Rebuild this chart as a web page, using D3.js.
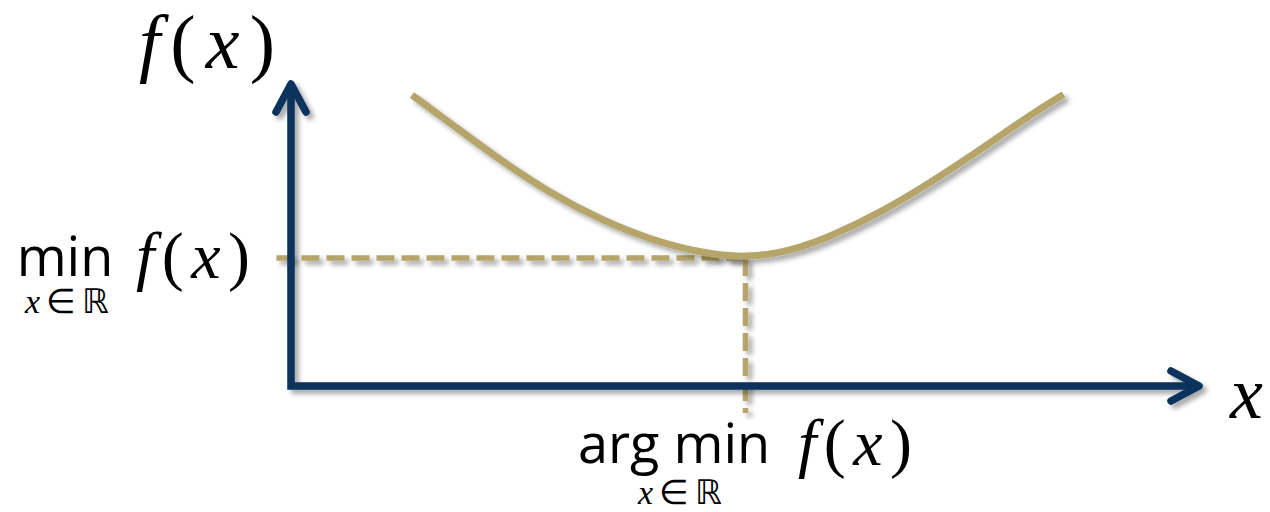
<!DOCTYPE html>
<html><head><meta charset="utf-8">
<script src="https://cdn.jsdelivr.net/npm/d3@7"></script>
<style>
html,body{margin:0;padding:0;background:#fff;}
svg{display:block;}
.serif{font-family:"Liberation Serif","Times New Roman",serif;}
.sans{font-family:"Open Sans","DejaVu Sans",sans-serif;}
</style></head>
<body>
<svg id="chart" width="1270" height="512"></svg>
<script>
// Curve samples (x, f(x)) in chart units
const curveX = [1.33, 1.75, 2.30, 2.85, 3.40, 3.95, 4.50, 5.00, 5.50, 5.93, 6.48, 7.03, 7.58, 8.13, 8.50];
const curveY = [9.70, 8.77, 7.53, 6.43, 5.55, 4.88, 4.44, 4.26, 4.50, 4.97, 5.77, 6.77, 7.87, 9.03, 9.72];
const minPoint = [5.00, 4.27];
const axisExtent = {xMax: 10, yMax: 10.1};
const dashStart = -0.16;   // start of horizontal guide (x units)
const dashEnd = -0.9;      // end of vertical guide (y units)

const navy = "#07325c", gold = "#b5a56a";
const svg = d3.select("#chart");
const x = d3.scaleLinear().domain([0, 10]).range([291, 1200]);
const y = d3.scaleLinear().domain([0, 10]).range([386, 86]);

const defs = svg.append("defs");
const f = defs.append("filter").attr("id","sh").attr("x","-20%").attr("y","-20%").attr("width","140%").attr("height","160%");
f.append("feDropShadow").attr("dx",4).attr("dy",4).attr("stdDeviation",2.5).attr("flood-color","#000").attr("flood-opacity",0.35);

const line = d3.line().x(d=>x(d[0])).y(d=>y(d[1]));

// guides
const g = svg.append("g").attr("filter","url(#sh)");
g.append("path").attr("d", line([[dashStart, minPoint[1]],[minPoint[0], minPoint[1]]]))
  .attr("stroke", gold).attr("stroke-width", 5.5).attr("fill","none").attr("stroke-dasharray","18,7");
g.append("path").attr("d", line([[minPoint[0], minPoint[1]],[minPoint[0], dashEnd]]))
  .attr("stroke", gold).attr("stroke-width", 5.5).attr("fill","none").attr("stroke-dasharray","18,7");

// axes
const a = svg.append("g").attr("filter","url(#sh)").attr("fill","none").attr("stroke",navy)
  .attr("stroke-width",7.5).attr("stroke-linecap","round").attr("stroke-linejoin","round");
a.append("path").attr("d", line([[0, axisExtent.yMax],[0, 0],[axisExtent.xMax, 0]])).attr("stroke-linecap","butt").attr("stroke-linejoin","miter");
const ay = y(axisExtent.yMax), ax0 = x(0);
a.append("path").attr("d", `M${ax0-15},${ay+29}L${ax0},${ay+1}L${ax0+15},${ay+29}`);
const axx = x(axisExtent.xMax), axy = y(0);
a.append("path").attr("d", `M${axx-29},${axy-15}L${axx-1},${axy}L${axx-29},${axy+15}`);

// curve
const pts = curveX.map((v,i)=>[v, curveY[i]]);
svg.append("path").attr("filter","url(#sh)")
  .attr("d", d3.line().x(d=>x(d[0])).y(d=>y(d[1])).curve(d3.curveBasis)(pts))
  .attr("fill","none").attr("stroke",gold).attr("stroke-width",7);

// labels
function fx(sel, size, len){
  sel.attr("textLength", len).attr("lengthAdjust","spacing");
  sel.append("tspan").attr("font-style","italic").text("f");
  sel.append("tspan").text("(");
  sel.append("tspan").attr("font-style","italic").text("x");
  sel.append("tspan").text(")");
}
const t1 = svg.append("text").attr("class","serif").attr("x",139).attr("y",68).attr("font-size",76).attr("fill","#000");
fx(t1,76,136);
svg.append("text").attr("class","serif").attr("x",1230).attr("y",418).attr("font-size",74).attr("font-style","italic").text("x");

svg.append("text").attr("class","sans").attr("x",65).attr("y",276).attr("font-size",54).attr("text-anchor","middle").text("min");
const t2 = svg.append("text").attr("class","serif").attr("x",136).attr("y",278).attr("font-size",66);
fx(t2,66,114);
function sub(xc, yb){
  const s = svg.append("text").attr("class","serif").attr("x",xc-42).attr("y",yb).attr("font-size",34)
    .attr("textLength",84).attr("lengthAdjust","spacing");
  s.append("tspan").attr("font-style","italic").text("x");
  s.append("tspan").text("∈ℝ");
}
sub(67, 313);

svg.append("text").attr("class","sans").attr("x",578).attr("y",463).attr("font-size",54).text("arg min");
const t3 = svg.append("text").attr("class","serif").attr("x",798).attr("y",465).attr("font-size",66);
fx(t3,66,114);
sub(680, 504);
</script>
</body></html>
